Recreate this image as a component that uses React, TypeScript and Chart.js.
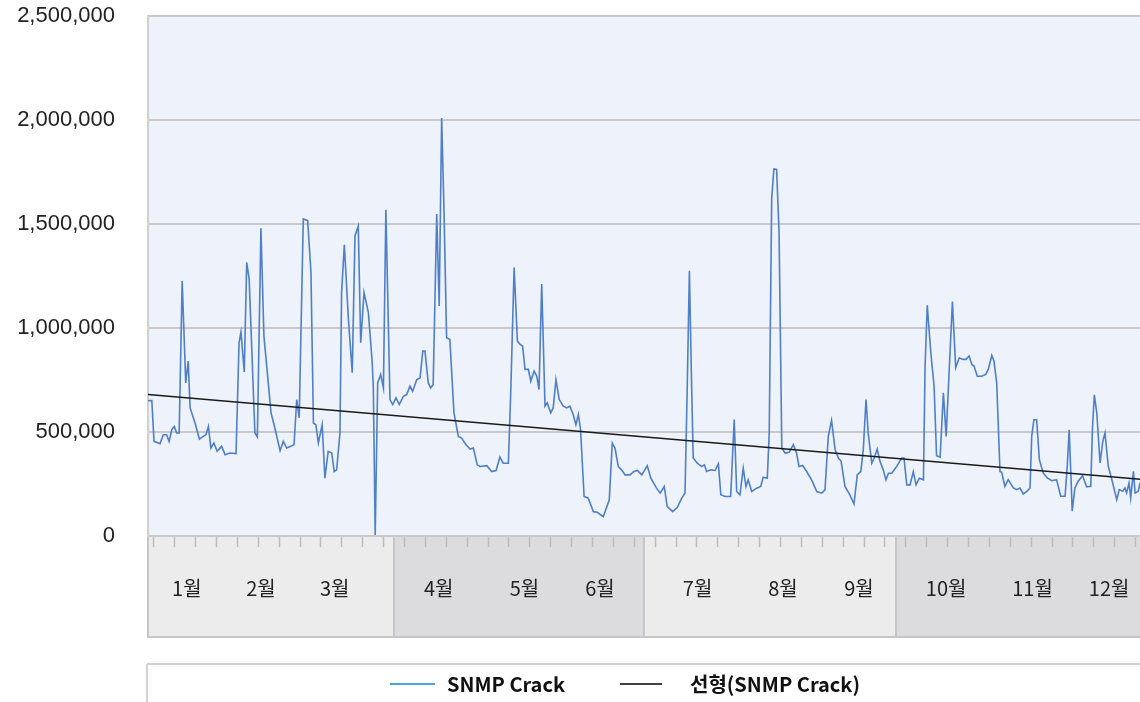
import React, { useEffect, useRef } from "react";
import { Chart, registerables } from "chart.js";

Chart.register(...registerables);

// Day of year (0..365) for each reading of the SNMP Crack series
const snmpDays = [
  0, 1.4, 2.2, 4.4, 5.6, 6.8, 7.7, 8.7, 9.6, 10.5, 11.4, 12.5, 13.8, 14.7, 15.4, 17.2, 18.8, 20.2, 21.2, 22.1,
  23.0, 24.1, 25.3, 26.9, 28.2, 30.0, 32.2, 33.3, 34.0, 35.2, 36.1, 37.0, 39.1, 40.0, 41.3, 42.4, 45.0, 46.4, 48.3, 49.5,
  50.7, 52.2, 53.4, 54.4, 55.3, 56.8, 58.4, 59.6, 60.5, 61.4, 62.3, 63.7, 64.7, 65.9, 67.2, 68.1, 69.0, 70.2, 70.8, 71.8,
  73.3, 74.7, 75.7, 76.9, 77.8, 79.0, 80.6, 82.0, 82.4, 83.1, 84.0, 85.1, 86.1, 87.0, 88.5, 89.5, 90.7, 91.9, 93.4, 94.6,
  95.8, 96.8, 98.3, 99.5, 100.5, 101.3, 102.5, 103.4, 104.3, 105.6, 106.5, 107.4, 108.3, 109.2, 110.4, 111.9, 113.5, 114.7, 116.3, 117.8,
  119.0, 120.4, 121.4, 123.9, 125.7, 127.3, 128.7, 129.9, 131.8, 132.7, 133.9, 135.1, 136.1, 137.0, 137.9, 139.1, 140.0, 141.2, 142.2, 143.0,
  144.0, 145.2, 146.0, 147.3, 148.2, 149.2, 150.4, 151.9, 153.1, 154.3, 155.5, 156.5, 157.4, 158.2, 159.5, 161.0, 162.9, 164.3, 166.5, 168.7,
  169.8, 170.8, 172.0, 173.2, 174.5, 176.3, 177.7, 179.0, 180.6, 182.6, 183.9, 186.0, 187.3, 188.8, 189.9, 191.9, 193.6, 195.2, 196.4, 197.2,
  198.0, 198.8, 199.4, 200.9, 202.5, 203.5, 204.3, 205.8, 207.4, 208.6, 209.5, 211.0, 213.1, 214.4, 215.3, 216.5, 217.7, 218.7, 219.5, 220.8,
  222.6, 224.1, 225.0, 226.5, 227.2, 228.1, 228.9, 229.9, 230.8, 231.8, 233.0, 234.5, 236.0, 237.2, 238.1, 239.4, 240.9, 242.7, 244.6, 246.4,
  247.6, 248.8, 250.0, 251.3, 252.5, 253.5, 254.9, 256.7, 258.2, 259.4, 260.7, 261.6, 262.6, 263.4, 264.7, 265.6, 266.7, 267.7, 268.9, 269.9,
  270.8, 272.0, 273.8, 275.6, 276.5, 277.5, 278.7, 279.9, 280.9, 282.1, 283.6, 284.2, 285.0, 286.3, 287.5, 288.4, 289.7, 290.9, 291.9, 293.1,
  294.2, 295.4, 296.7, 298.0, 299.2, 300.3, 301.3, 302.1, 303.3, 304.9, 306.4, 307.3, 308.6, 309.4, 310.4, 311.6, 312.2, 313.4, 314.6, 316.5,
  317.7, 318.9, 320.1, 321.4, 322.6, 323.2, 324.0, 325.0, 326.0, 327.4, 328.9, 330.5, 332.3, 333.8, 335.4, 336.2, 336.9, 337.6, 338.0, 339.0,
  340.2, 341.8, 343.3, 344.8, 345.4, 346.1, 347.0, 348.2, 349.2, 350.0, 351.2, 352.5, 354.3, 355.2, 356.5, 357.3, 357.9, 358.8, 359.4, 360.4,
  361.0, 362.2, 362.8,
];

const snmpValues = [
  651000, 651000, 455000, 444000, 487000, 487000, 455000, 511000, 527000, 495000,
  495000, 1227000, 736000, 841000, 616000, 543000, 466000, 479000, 487000, 527000,
  423000, 447000, 407000, 431000, 391000, 399000, 396000, 929000, 981000, 788000,
  1315000, 1235000, 495000, 476000, 1479000, 961000, 592000, 519000, 410000, 455000,
  423000, 431000, 439000, 656000, 568000, 1524000, 1516000, 1267000, 543000, 535000,
  447000, 535000, 278000, 407000, 399000, 310000, 318000, 495000, 1170000, 1400000,
  1042000, 785000, 1444000, 1489000, 929000, 1170000, 1074000, 833000, 720000, 5000,
  736000, 777000, 712000, 1568000,
  656000, 632000, 664000, 632000, 672000, 680000, 720000, 696000, 752000, 760000,
  889000, 889000, 736000, 712000, 728000, 1548000, 1106000, 2010000, 1540000, 953000,
  945000, 592000, 479000, 471000, 439000, 418000, 423000, 342000, 334000, 338000,
  310000, 315000, 379000, 350000, 350000, 704000, 1291000, 937000, 921000, 913000,
  801000, 801000, 744000, 793000, 768000, 704000, 1211000, 624000, 640000, 592000,
  616000, 752000, 656000,
  624000, 616000, 624000, 584000, 535000, 584000, 511000, 190000, 182000, 117000,
  114000, 93000, 174000, 447000, 423000, 334000, 318000, 294000, 294000, 310000,
  315000, 294000, 338000, 278000, 230000, 206000, 238000, 141000, 117000, 138000,
  182000, 206000, 704000, 1275000, 736000, 375000, 350000, 334000, 342000, 310000,
  318000, 315000, 347000, 198000, 190000, 190000, 560000, 214000, 198000, 326000,
  238000, 270000, 214000, 230000, 238000, 283000, 278000, 495000, 1621000, 1765000,
  1762000, 1460000, 423000, 399000, 402000, 439000,
  399000, 334000, 339000, 310000, 270000, 214000, 206000, 222000, 479000, 556000,
  415000, 375000, 359000, 238000, 198000, 154000, 294000, 310000, 415000, 656000,
  495000, 350000, 375000, 418000, 359000, 318000, 270000, 302000, 302000, 334000,
  375000, 375000, 246000, 246000, 310000, 246000, 278000, 270000, 817000, 1109000,
  881000, 720000, 386000, 379000, 688000, 479000, 817000, 1127000, 809000, 857000,
  849000, 849000, 865000, 825000, 817000, 768000, 768000, 777000, 801000, 868000,
  841000, 736000, 310000,
  306000, 239000, 271000, 231000, 223000, 231000, 202000, 215000, 231000, 479000,
  559000, 559000, 367000, 303000, 279000, 266000, 271000, 191000, 191000, 335000,
  511000, 271000, 119000, 231000, 263000, 290000, 236000, 239000, 511000, 679000,
  591000, 351000, 455000, 495000, 335000, 271000, 175000, 223000, 215000, 231000,
  207000, 255000, 183000, 311000, 207000, 215000, 255000,
];

// Linear trend line end points
const trendDays = [0, 365];
const trendValues = [680000, 271000];

const seriesLabels = ["SNMP Crack", "선형(SNMP Crack)"];

const monthLabels = ["1월", "2월", "3월", "4월", "5월", "6월", "7월", "8월", "9월", "10월", "11월", "12월"];
const monthLabelDays = [14.2, 41.3, 68.3, 106.3, 137.7, 165.3, 201.0, 232.2, 260.0, 291.9, 323.5, 351.5];

// Quarter band edges (day of year) on the category band below the plot
const quarterBounds = [0, 90.1, 181.5, 273.6, 365];

const Y_MIN = 0;
const Y_MAX = 2500000;
const Y_STEP = 500000;

const W = 1150;
const H = 702;

export default function App() {
  const ref = useRef<HTMLCanvasElement>(null);

  useEffect(() => {
    const canvas = ref.current;
    if (!canvas) return;
    const n = Math.min(snmpDays.length, snmpValues.length);
    const series: { x: number; y: number }[] = [];
    for (let i = 0; i < n; i++) series.push({ x: snmpDays[i], y: snmpValues[i] });
    const trend = trendDays.map((d, i) => ({ x: d, y: trendValues[i] }));

    const decorPlugin = {
      id: "decor",
      beforeDraw(chart: any) {
        const { ctx, chartArea: a, scales } = chart;
        const x = scales.x;
        ctx.save();
        ctx.fillStyle = "#EEF2FA";
        ctx.fillRect(a.left, a.top, a.right - a.left, a.bottom - a.top);
        const top = a.bottom;
        const bottom = x.bottom;
        for (let q = 0; q < 4; q++) {
          const l = x.getPixelForValue(quarterBounds[q]);
          const r = x.getPixelForValue(quarterBounds[q + 1]);
          ctx.fillStyle = q % 2 === 0 ? "#ECECEC" : "#DCDCDE";
          ctx.fillRect(l, top, r - l, bottom - top);
        }
        ctx.strokeStyle = "#C6C6C6";
        ctx.lineWidth = 2;
        for (let q = 1; q < 4; q++) {
          const p = Math.round(x.getPixelForValue(quarterBounds[q]));
          ctx.beginPath();
          ctx.moveTo(p, top);
          ctx.lineTo(p, bottom);
          ctx.stroke();
        }
        ctx.beginPath();
        ctx.moveTo(a.left, bottom - 1);
        ctx.lineTo(chart.width, bottom - 1);
        ctx.moveTo(a.left, top);
        ctx.lineTo(a.left, bottom);
        ctx.stroke();
        ctx.strokeStyle = "#BDBDBD";
        ctx.lineWidth = 1.5;
        for (let k = 0; k < 48; k++) {
          const p = Math.round(x.getPixelForValue(1.94 + k * 7.64)) + 0.5;
          ctx.beginPath();
          ctx.moveTo(p, top + 1);
          ctx.lineTo(p, top + 11);
          ctx.stroke();
        }
        ctx.restore();
      },
      afterDraw(chart: any) {
        const { ctx, chartArea: a } = chart;
        ctx.save();
        ctx.strokeStyle = "#D2D2D2";
        ctx.lineWidth = 2;
        const boxTop = 664;
        ctx.beginPath();
        ctx.moveTo(a.left - 1, boxTop);
        ctx.lineTo(chart.width, boxTop);
        ctx.moveTo(a.left - 1, boxTop);
        ctx.lineTo(a.left - 1, chart.height);
        ctx.stroke();
        const ly = 684;
        const items = [
          { x0: 390, x1: 435, tx: 447, color: "#4EA6DC", label: seriesLabels[0] },
          { x0: 620, x1: 662, tx: 690, color: "#404040", label: seriesLabels[1] },
        ];
        ctx.font = "bold 20px 'Noto Sans CJK KR', 'Noto Sans', sans-serif";
        ctx.textBaseline = "middle";
        ctx.textAlign = "left";
        for (const it of items) {
          ctx.strokeStyle = it.color;
          ctx.lineWidth = 2;
          ctx.beginPath();
          ctx.moveTo(it.x0, ly);
          ctx.lineTo(it.x1, ly);
          ctx.stroke();
          ctx.fillStyle = "#111";
          ctx.fillText(it.label, it.tx, ly);
        }
        ctx.restore();
      },
    };

    const chart = new Chart(canvas, {
      type: "line",
      data: {
        datasets: [
          {
            label: seriesLabels[0],
            data: series,
            borderColor: "#4F7FC9",
            borderWidth: 1.6,
            pointRadius: 0,
            tension: 0,
            order: 1,
          },
          {
            label: seriesLabels[1],
            data: trend,
            borderColor: "#1A1A1A",
            borderWidth: 1.5,
            pointRadius: 0,
            tension: 0,
            order: 0,
          },
        ],
      },
      options: {
        responsive: false,
        animation: false,
        devicePixelRatio: 1,
        layout: { padding: { top: 16, bottom: 64, left: 0, right: 4 } },
        plugins: { legend: { display: false }, tooltip: { enabled: false } },
        scales: {
          x: {
            type: "linear",
            min: 0,
            max: 365,
            afterFit(s: any) {
              s.height = 102;
              s.paddingLeft = 0;
              s.paddingRight = 0;
            },
            afterBuildTicks(s: any) {
              s.ticks = monthLabelDays.map((v) => ({ value: v }));
            },
            ticks: {
              autoSkip: false,
              maxRotation: 0,
              minRotation: 0,
              padding: 40,
              color: "#222",
              font: { family: "'Noto Sans CJK KR', sans-serif", size: 20 },
              callback: (_v: any, i: number) => monthLabels[i],
            },
            grid: { display: false, drawTicks: false },
            border: { display: false },
          },
          y: {
            min: Y_MIN,
            max: Y_MAX,
            afterFit(s: any) {
              s.width = 148;
              s.paddingTop = 0;
              s.paddingBottom = 0;
            },
            ticks: {
              stepSize: Y_STEP,
              padding: 33,
              color: "#222",
              font: { family: "'Liberation Sans', Arial, sans-serif", size: 22 },
              callback: (v: any) => Number(v).toLocaleString("en-US"),
            },
            grid: { color: "#C9C9C9", lineWidth: 2, drawTicks: false },
            border: { display: true, color: "#D0D0D0", width: 2 },
          },
        },
      },
      plugins: [decorPlugin],
    } as any);

    return () => chart.destroy();
  }, []);

  return (
    <div style={{ position: "fixed", left: 0, top: 0, width: W, height: H, background: "#fff" }}>
      <canvas ref={ref} width={W} height={H} style={{ display: "block" }} />
    </div>
  );
}
